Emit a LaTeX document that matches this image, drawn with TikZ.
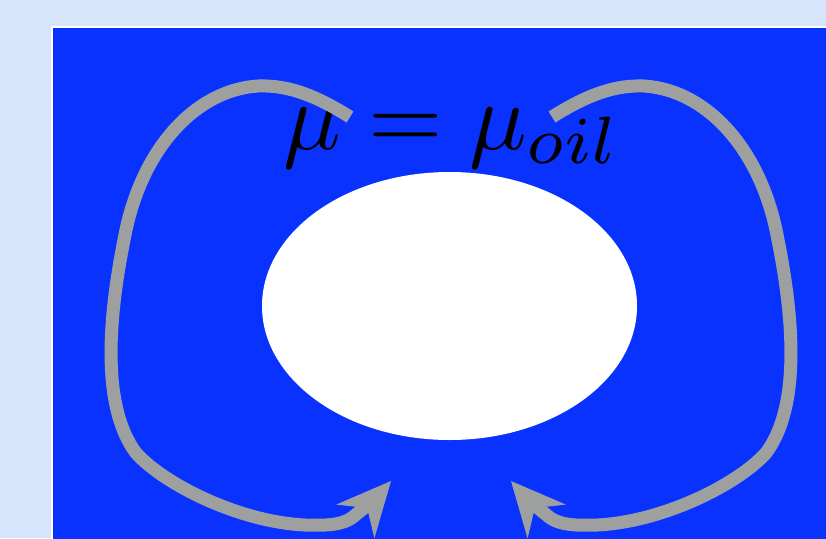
\documentclass[tikz,border=0pt]{standalone}
\usepackage{amsmath, amssymb}
\usepackage{tikz}
\usepackage{xcolor}
\usetikzlibrary{arrows.meta, shapes.geometric}

\definecolor{pagebg}{RGB}{214,228,252}
\definecolor{domainblue}{RGB}{10,50,255}
\definecolor{flowgray}{RGB}{158,160,160}

\begin{document}
\begin{tikzpicture}[x=1pt, y=-1pt,
    flow/.style={line width=13pt, flowgray,
        -{Stealth[length=54pt, width=51pt, inset=18pt, line width=0pt]}},
    droplet/.style={ellipse, fill=white, inner sep=0pt,
        minimum width=375pt, minimum height=268pt}]
    % Page and outer fluid
    \useasboundingbox[fill=pagebg] (0,0) rectangle (826,538);
    \begin{scope}
        \clip (0,0) rectangle (826,538);
        \fill[white] (51,26) rectangle (840,550);
        \fill[domainblue] (53,28) rectangle (840,550);
    \end{scope}

    % Drop and viscosity label
    \node[droplet] (drop) at (449.5,306) {};
    \node[scale=9.57, anchor=base] (visc) at (452.5,149) {$\mu = \mu_{oil}$};

    % Circulation: left side, mirrored for the right side
    \foreach \side/\flip/\shift in {left/1/0, right/-1/902} {
        \begin{scope}[xshift=\shift pt, xscale=\flip]
            \coordinate (\side-top) at (350,117);
            \coordinate (\side-tip) at (391,481);
            \draw[flow] (\side-top) .. controls (312,93) and (285,85) .. (258,86)
                .. controls (195,90) and (140,150) .. (124,240)
                .. controls (106,330) and (104,410) .. (136,453)
                .. controls (165,485) and (240,522) .. (305,525)
                .. controls (330,526) and (344,524) .. (353,517)
                .. controls (364,508) and (376,498) .. (\side-tip);
        \end{scope}
    }
\end{tikzpicture}
\end{document}
